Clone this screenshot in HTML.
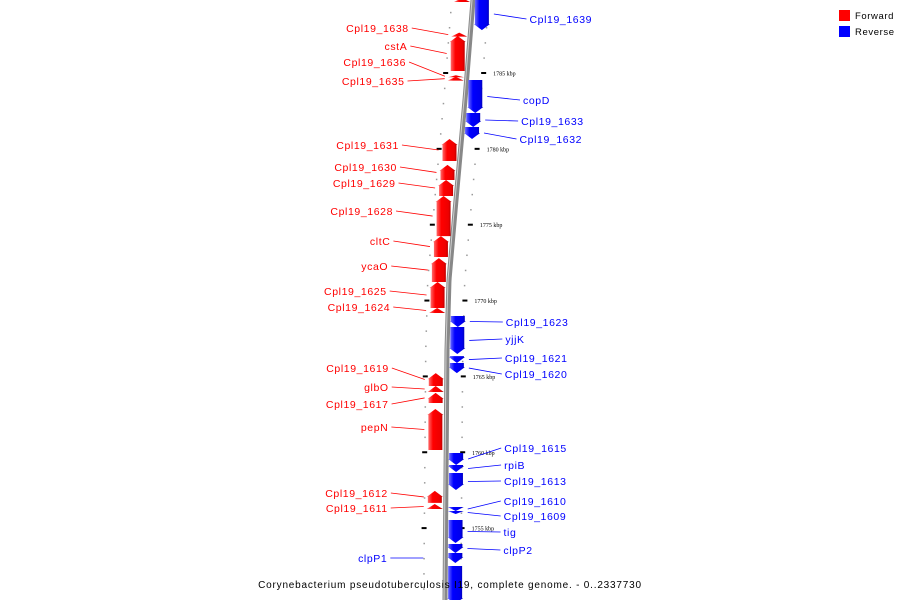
<!DOCTYPE html>
<html><head><meta charset="utf-8">
<style>
html,body{margin:0;padding:0;background:#fff;}
svg{display:block;font-family:"Liberation Sans",sans-serif;}
</style></head>
<body>
<svg id="chart" width="900" height="600" viewBox="0 0 900 600">
<defs>
<linearGradient id="gr" x1="0" x2="1" y1="0" y2="0"><stop offset="0" stop-color="#ff8080"/><stop offset="0.35" stop-color="#ff0000"/><stop offset="0.8" stop-color="#ee0000"/><stop offset="1" stop-color="#aa0000"/></linearGradient>
<linearGradient id="gb" x1="0" x2="1" y1="0" y2="0"><stop offset="0" stop-color="#8080ff"/><stop offset="0.35" stop-color="#0000ff"/><stop offset="0.8" stop-color="#0000ee"/><stop offset="1" stop-color="#0000aa"/></linearGradient>
<linearGradient id="gbb" x1="0" x2="1" y1="0" y2="0"><stop offset="0" stop-color="#ddd"/><stop offset="0.5" stop-color="#888"/><stop offset="1" stop-color="#555"/></linearGradient>
</defs>
<g id="ticks"></g>
<g id="backbone"></g>
<g id="genes"></g>
<g id="labels"></g>
<g>
<rect x="839" y="10" width="11" height="11" fill="#ff0000"/>
<text x="855" y="19" font-size="9.5" letter-spacing="0.6" fill="#000">Forward</text>
<rect x="839" y="26" width="11" height="11" fill="#0000ff"/>
<text x="855" y="35" font-size="9.5" letter-spacing="0.6" fill="#000">Reverse</text>
</g>
<text x="450" y="588" text-anchor="middle" font-size="10" letter-spacing="0.8" fill="#000">Corynebacterium pseudotuberculosis I19, complete genome. - 0..2337730</text>
</svg>
<script>
// gene data (kbp positions)
const geneNames = ["top-fwd","Cpl19_1639","Cpl19_1638","cstA","Cpl19_1636","Cpl19_1635","copD","Cpl19_1633","Cpl19_1632","Cpl19_1631","Cpl19_1630","Cpl19_1629","Cpl19_1628","cltC","ycaO","Cpl19_1625","Cpl19_1624","Cpl19_1623","yjjK","Cpl19_1621","Cpl19_1620","Cpl19_1619","glbO","Cpl19_1617","pepN","Cpl19_1615","rpiB","Cpl19_1613","Cpl19_1612","Cpl19_1611","Cpl19_1610","Cpl19_1609","tig","clpP2","clpP1","bottom-rev"];
const geneStrand = [1,-1,1,1,1,1,-1,-1,-1,1,1,1,1,1,1,1,1,-1,-1,-1,-1,1,1,1,1,-1,-1,-1,1,1,-1,-1,-1,-1,-1,-1];
const geneStart = [1789.95,1789.95,1787.66,1787.44,1784.85,1784.75,1784.54,1782.36,1781.44,1780.65,1778.94,1777.95,1776.89,1774.25,1772.80,1771.22,1769.51,1768.98,1768.26,1766.34,1765.88,1765.22,1764.37,1763.91,1762.85,1759.95,1759.16,1758.63,1757.45,1756.59,1756.39,1756.13,1755.53,1753.95,1753.36,1752.50];
const geneEnd   = [1789.68,1787.83,1787.40,1785.13,1784.72,1784.50,1782.36,1781.44,1780.65,1779.20,1777.95,1776.89,1774.25,1772.87,1771.22,1769.51,1769.18,1768.26,1766.48,1765.88,1765.22,1764.37,1763.97,1763.25,1760.15,1759.16,1758.70,1757.51,1756.66,1756.26,1756.13,1755.93,1754.02,1753.36,1752.70,1750.0];
// label text y positions (pixels of label baseline-center)
const labelY = [null,19,28,46,62,81,100,121,139,145,167,183,211,241,266,291,307,322,339,358,374,368,387,404,427,448,465,481,493,508,501,516,532,550,558,null];
const majorTicks = [1785,1780,1775,1770,1765,1760,1755];

const svgNS="http://www.w3.org/2000/svg";
function kToY(k){return 73+(1785-k)*15.17;}
const bbPts=[[0,473],[100,465],[200,456],[280,449],[350,447],[600,445]];
function bx(y){for(let i=0;i<bbPts.length-1;i++){const a=bbPts[i],b=bbPts[i+1];if(y<=b[0]){return a[1]+(b[1]-a[1])*(y-a[0])/(b[0]-a[0]);}}return 445;}
function mk(tag,attrs,parent){const e=document.createElementNS(svgNS,tag);for(const k in attrs)e.setAttribute(k,attrs[k]);parent.appendChild(e);return e;}

// backbone
const bb=document.getElementById('backbone');
let pts=[];for(let y=-2;y<=602;y+=4){pts.push((bx(y)-2.5)+','+y);}
for(let y=602;y>=-2;y-=4){pts.push((bx(y)+2.5)+','+y);}
const bbEl=mk('polygon',{points:pts.join(' '),fill:'#888'},bb);


let pts2=[];for(let y=-2;y<=602;y+=4){pts2.push((bx(y)-1)+','+y);}
mk('polyline',{points:pts2.join(' '),fill:'none',stroke:'#d0d0d0','stroke-width':1},bb);

// ticks
const tg=document.getElementById('ticks');
for(let k=1790;k>=1750;k-=1){const y=kToY(k);if(y<-2||y>600)continue;const c=bx(y);
 if(majorTicks.indexOf(k)>=0){
  const l=mk('rect',{x:c-24,y:y-1,width:5,height:2,fill:'#000'},tg);
  
  const r=mk('rect',{x:c+14,y:y-1,width:5,height:2,fill:'#000'},tg);
  
  const t=mk('text',{x:c+26,y:y+2.5,'font-size':6,'font-family':'Liberation Serif, serif',fill:'#000'},tg);
  t.textContent=k+' kbp';
  
 } else {
  const a=mk('rect',{x:c-22,y:y-0.5,width:1.5,height:1.5,fill:'#999'},tg);
  
  const b=mk('rect',{x:c+15,y:y-0.5,width:1.5,height:1.5,fill:'#999'},tg);
  
 }
}

// genes
const gg=document.getElementById('genes'), lg=document.getElementById('labels');
for(let i=0;i<geneNames.length;i++){
 const y1=kToY(geneStart[i]), y2=kToY(geneEnd[i]);
 const top=Math.min(y1,y2), bot=Math.max(y1,y2), h=bot-top;
 const fwd=geneStrand[i]>0, c=bx((top+bot)/2);
 const x0=fwd? c-18 : c+3, x1=fwd? c-4 : c+17;
 const head=Math.min(6,h);
 let p;
 if(fwd){p=[[x0,bot],[x0,top+head],[x0-1,top+head],[(x0+x1)/2,top],[x1+1,top+head],[x1,top+head],[x1,bot]];}
 else{p=[[x0,top],[x0,bot-head],[x0-1,bot-head],[(x0+x1)/2,bot],[x1+1,bot-head],[x1,bot-head],[x1,top]];}
 const g=mk('polygon',{points:p.map(q=>q.join(',')).join(' '),fill:fwd?'url(#gr)':'url(#gb)'},gg);
 
 
 if(labelY[i]===null)continue;
 const col=fwd?'#ff0000':'#0000ff';
 const gy=(top+bot)/2;
 const leftSide = fwd || geneNames[i]==='clpP1';
 const ly=labelY[i];
 if(leftSide){
  const tx=bx(ly)-62+(ly>300?4:0);
  const ln=mk('line',{x1:tx+3,y1:ly,x2:c-22,y2:gy,stroke:col,'stroke-width':0.8},lg);
  
  const t=mk('text',{x:tx,y:ly+4,'text-anchor':'end','font-size':10.5,'letter-spacing':0.6,fill:col},lg);
  t.textContent=geneNames[i];
  
 } else {
  const tx=bx(ly)+58;
  const ln=mk('line',{x1:c+22,y1:gy,x2:tx-3,y2:ly,stroke:col,'stroke-width':0.8},lg);
  
  const t=mk('text',{x:tx,y:ly+4,'font-size':10.5,'letter-spacing':0.6,fill:col},lg);
  t.textContent=geneNames[i];
  
 }
}
</script>
</body></html>
